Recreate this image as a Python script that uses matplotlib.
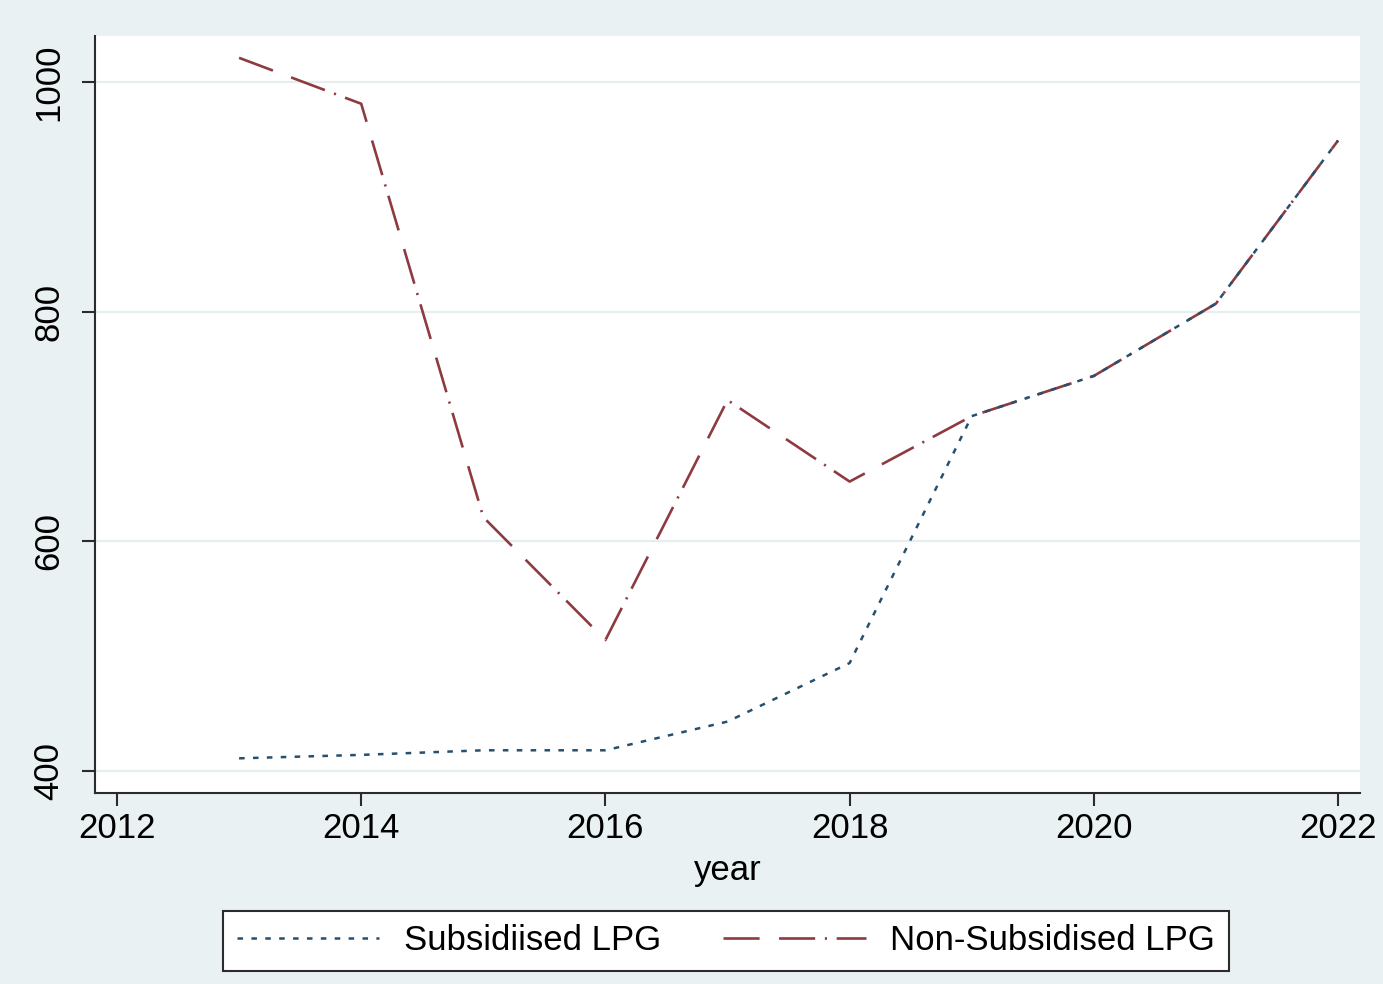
import matplotlib.pyplot as plt

years = [2013, 2014, 2015, 2016, 2017, 2018, 2019, 2020, 2021, 2022]
subsidised = [411, 414, 418, 418, 443, 494, 709, 744, 807, 949]
non_subsidised = [1021, 981, 621, 514, 723, 652, 709, 744, 807, 949]

xticks = [2012, 2014, 2016, 2018, 2020, 2022]
yticks = [400, 600, 800, 1000]

bg = '#eaf1f3'
plt.rcParams['font.family'] = ['Liberation Sans', 'DejaVu Sans']
plt.rcParams['lines.scale_dashes'] = False

fig = plt.figure(figsize=(13.83, 9.84), dpi=100, facecolor=bg)
ax = fig.add_axes([0.0687, 0.1941, 0.9147, 0.7693])
ax.set_facecolor('white')

ax.plot(years, subsidised, color='#26506f', lw=1.8, dashes=(4, 6),
        label='Subsidiised LPG', zorder=3)
ax.plot(years, non_subsidised, color='#8e3a41', lw=1.9,
        dashes=(26, 14, 26, 7, 1.5, 7),
        label='Non-Subsidised LPG', zorder=2)

ax.set_xlim(2011.82, 2022.18)
ax.set_ylim(380.8, 1040)
ax.set_xticks(xticks)
ax.set_yticks(yticks)
ax.grid(axis='y', color='#e6eef0', lw=1.6)
ax.set_axisbelow(True)

for s in ['top', 'right']:
    ax.spines[s].set_visible(False)
for s in ['left', 'bottom']:
    ax.spines[s].set_color('#2b2b2b')
    ax.spines[s].set_linewidth(1.5)

ax.tick_params(direction='out', length=9.5, width=1.5, color='#2b2b2b',
               labelsize=25, pad=4)
ax.tick_params(axis='y', pad=12)
for lab in ax.get_yticklabels():
    lab.set_rotation(90)
    lab.set_va('center')

ax.set_xlabel('year', fontsize=25, labelpad=7)

leg = fig.legend(loc='center', bbox_to_anchor=(726 / 1383, 1 - 941 / 984), ncol=2,
                 fontsize=25, handlelength=4.1, columnspacing=1.8,
                 fancybox=False, framealpha=1, edgecolor='#2b2b2b',
                 borderpad=0.4, handletextpad=0.7, borderaxespad=0)
leg.get_frame().set_linewidth(1.5)

fig.savefig('out.png', dpi=100, facecolor=bg)
